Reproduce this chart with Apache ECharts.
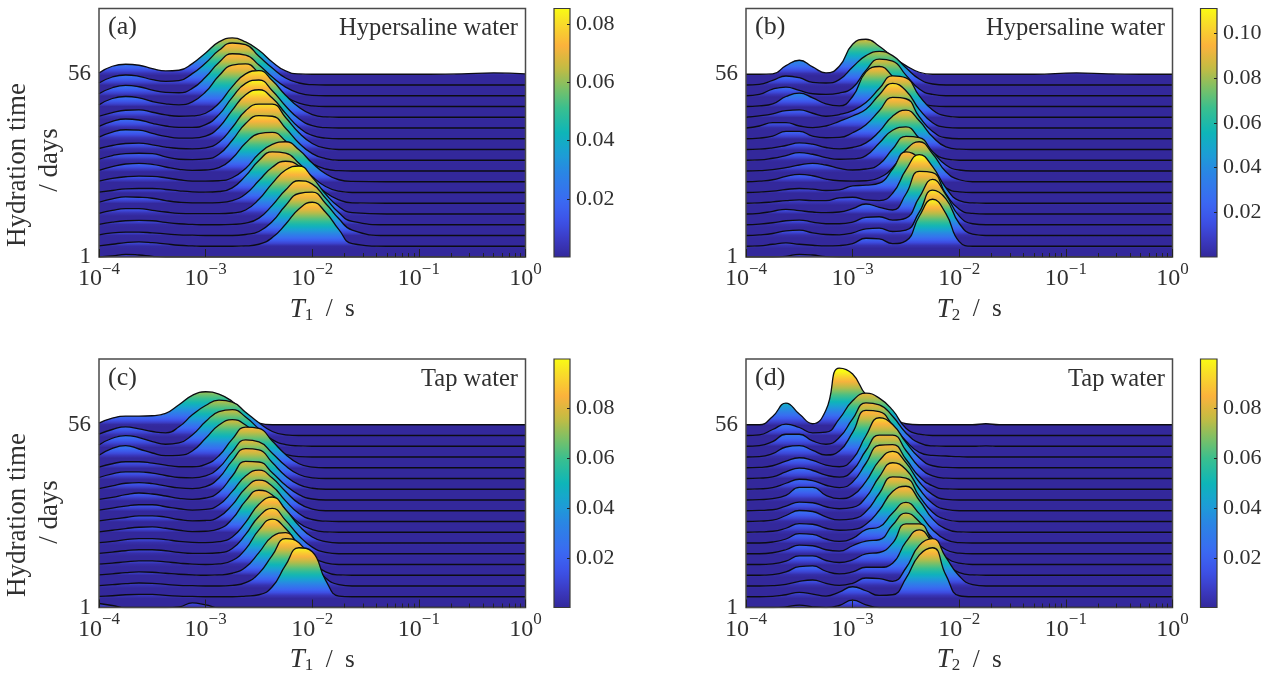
<!DOCTYPE html>
<html><head><meta charset="utf-8">
<style>html,body{margin:0;padding:0;background:#fff}#c{width:1273px;height:674px}</style>
<script src="https://cdn.jsdelivr.net/npm/echarts@6/dist/echarts.min.js"></script>
</head><body><div id="c"></div>
<script>
// log10(T / s) sampling positions shared by every ridge
const logT = [-4,-3.875,-3.75,-3.625,-3.5,-3.375,-3.25,-3.125,-3,-2.875,-2.75,-2.625,-2.5,-2.375,-2.25,-2.125,-2,-1.875,-1.75,-1.625,-1.3,-0.9,-0.6,-0.3,0];
const dayLabels = [1, 56];
const xTickLabels = [-4,-3,-2,-1,0];
// ridge heights, oldest day (top ridge) first; unit: 1/3 px of ridge height
const ridgesA = [
[4,24,30,27,17,10,12,32,64,97,109,97,72,37,10,1,0,0,0,0,0,0,1,4,1],
[6,24,30,26,16,11,13,34,66,104,126,121,86,51,21,6,1,0,0,0],
[6,24,31,27,17,10,9,22,56,100,126,122,92,56,26,8,1,0,0,0],
[5,24,30,26,15,8,5,14,44,92,124,128,100,62,30,10,2,0,0,0],
[3,14,21,22,15,7,3,4,12,42,92,130,140,110,66,30,8,1,0,0],
[5,20,27,24,14,6,2,2,10,40,92,134,144,112,66,28,7,1,0,0],
[5,20,27,26,16,7,2,2,8,34,86,132,147,122,76,34,10,2,0,0],
[3,12,18,19,14,7,3,2,5,22,66,116,136,136,96,50,18,4,0,0],
[3,14,20,21,20,10,3,2,4,18,60,110,134,132,96,52,20,5,0,0],
[2,13,21,23,20,12,5,2,3,10,38,84,112,116,90,52,22,6,1,0],
[2,10,15,17,16,12,6,2,2,3,12,40,84,112,120,96,56,24,6,1],
[1,6,11,12,12,9,5,2,1,3,14,50,96,122,118,88,48,18,4,0],
[3,13,19,18,15,8,3,1,1,2,8,28,68,108,126,112,70,32,10,1],
[2,11,16,16,11,6,2,1,1,1,3,12,44,92,132,144,110,60,22,4],
[1,8,12,13,12,7,3,1,0,0,1,5,20,58,104,132,122,80,36,10],
[2,8,10,10,8,5,2,1,0,0,0,3,12,42,90,126,130,96,50,16],
[1,6,11,13,11,7,3,1,0,0,0,1,6,26,66,112,132,102,50,8],
[0,3,8,6,2,0,0,0,0,0,0,0,0,0,0,0,0,0,0,0]
];
const ridgesB = [
[0,0,1,26,42,22,4,24,90,105,84,52,26,6,0,0,0,0,0,0,0,4,1,0,0],
[0,2,14,27,22,8,6,16,54,88,101,88,52,18,3,0,0,0,0,0],
[0,4,20,26,16,6,4,8,24,76,110,104,62,20,4,0,0,0,0,0],
[0,2,8,30,40,26,8,2,30,104,120,90,40,12,2,0,0,0,0,0],
[0,4,10,20,22,12,3,8,20,44,86,124,118,64,22,4,0,0,0,0],
[0,6,16,16,6,1,6,20,36,56,100,134,112,56,16,2,0,0,0,0],
[0,2,8,22,22,8,3,4,18,42,84,124,120,66,22,3,0,0,0,0],
[0,1,5,12,20,16,6,2,6,20,54,100,118,86,38,8,1,0,0,0],
[0,1,6,14,23,18,8,3,4,14,52,90,100,66,24,4,0,0,0,0],
[0,1,4,10,18,23,18,8,3,6,20,66,104,100,58,18,3,0,0,0],
[0,2,6,16,22,18,8,3,2,3,12,42,96,120,84,30,6,0,0,0],
[0,1,4,9,12,10,6,8,20,22,28,70,122,102,50,14,2,0,0,0],
[0,1,4,8,10,8,8,16,18,10,8,30,100,146,110,46,8,1,0,0],
[0,2,8,14,10,6,4,6,16,30,20,12,60,128,124,60,14,2,0,0],
[0,2,6,12,14,8,3,3,8,22,24,14,20,82,136,90,26,3,0,0],
[0,2,6,14,16,8,3,2,8,20,22,12,16,70,136,110,36,4,0,0],
[0,1,6,10,6,3,1,2,8,24,22,8,16,90,141,98,14,0,0,0],
[0,0,0,2,8,6,1,0,0,0,0,0,0,0,0,0,0,0,0,0]
];
const ridgesC = [
[5,20,26,26,27,34,60,88,99,92,70,35,5,0,0,0,0,0,0,0],
[4,18,26,20,12,8,26,62,90,106,100,70,38,12,2,0,0,0,0,0],
[4,24,32,26,14,6,10,34,74,104,110,88,52,20,5,1,0,0,0,0],
[5,26,34,24,12,4,5,18,56,96,112,96,60,26,8,1,0,0,0,0],
[2,12,18,18,14,8,3,3,10,36,86,122,118,80,40,12,2,0,0,0],
[3,14,20,20,16,9,3,2,8,32,80,116,110,76,38,12,2,0,0,0],
[2,10,18,20,17,10,4,2,8,34,86,122,118,80,40,14,3,0,0,0],
[2,8,16,21,18,12,5,2,6,24,72,116,114,82,44,16,3,0,0,0],
[2,8,14,18,18,12,6,2,4,18,58,104,122,98,58,22,5,0,0,0],
[2,7,12,17,17,13,6,2,3,14,50,100,124,106,62,24,6,1,0,0],
[1,6,11,15,16,12,6,2,3,10,40,94,126,112,68,28,8,1,0,0],
[1,5,10,13,13,10,5,2,1,4,18,62,116,138,100,52,18,4,0,0],
[1,5,9,12,12,9,4,1,1,3,16,58,112,136,100,54,20,4,0,0],
[1,4,8,11,11,8,4,1,0,2,12,46,104,136,108,58,22,5,0,0],
[1,4,8,10,9,6,3,1,0,1,6,24,68,116,128,86,40,10,1,0],
[1,4,7,9,8,5,2,1,0,0,2,10,38,92,142,130,70,24,4,0],
[1,3,6,7,7,4,2,1,0,0,0,2,6,30,95,147,135,50,2,0],
[12,6,0,0,0,0,2,14,8,0,0,0,0,0,0,0,0,0,0,0]
];
const ridgesD = [
[0,0,25,65,32,3,44,170,152,90,62,25,3,0,0,0,0,0,3,0],
[0,2,18,34,24,8,10,50,104,127,112,76,22,4,0,0,0,0,0,0],
[0,2,14,36,36,16,6,26,82,130,124,90,40,10,1,0,0,0,1,0],
[0,1,10,30,34,20,6,18,74,140,136,96,48,14,5,3,1,0,0,0],
[0,1,6,20,30,22,8,3,26,96,150,130,76,30,6,1,0,0,0,0],
[0,1,5,20,31,24,10,4,24,84,130,130,84,34,8,1,0,0,0,0],
[0,1,5,18,30,26,12,5,22,78,132,134,90,38,10,1,0,0,0,0],
[0,1,4,14,38,38,14,4,14,56,118,146,112,54,16,2,0,0,0,0],
[0,1,3,14,26,24,12,6,10,40,102,144,124,66,22,4,0,0,0,0],
[0,1,4,18,33,30,14,5,8,30,84,134,130,76,28,6,0,0,0,0],
[0,1,3,12,26,24,12,6,8,24,66,122,138,96,40,10,1,0,0,0],
[0,0,3,12,28,26,12,5,14,40,48,90,122,88,40,10,1,0,0,0],
[0,0,3,12,26,24,12,8,24,38,42,86,122,96,46,12,2,0,0,0],
[0,0,2,10,26,26,12,6,14,32,36,64,122,122,68,22,4,0,0,0],
[0,0,2,10,26,28,12,4,10,24,24,36,100,136,96,40,8,1,0,0],
[0,0,1,5,14,18,8,2,8,24,22,14,54,122,142,86,30,4,0,0],
[0,0,1,6,13,8,2,14,30,18,4,6,55,125,147,65,3,0,0,0],
[0,0,0,2,7,2,0,6,22,8,0,0,0,0,0,0,0,0,0,0]
];
const colorbarMaxA = 0.0854, colorbarMaxB = 0.1112, colorbarMaxC = 0.1, colorbarMaxD = 0.1;
const colorbarTicksA = [0.02,0.04,0.06,0.08];
const colorbarTicksB = [0.02,0.04,0.06,0.08,0.10];
const colorbarTicksC = [0.02,0.04,0.06,0.08];
const colorbarTicksD = [0.02,0.04,0.06,0.08];

const FONT = '"Liberation Serif", serif', INK = '#303030';
const parula = [[0,'#33289b'],[0.06,'#3a38bd'],[0.14,'#3d50e6'],[0.22,'#3b68f3'],[0.34,'#2a86e4'],[0.42,'#1ba0d4'],[0.5,'#0eb5b8'],[0.6,'#3abf8e'],[0.68,'#7cc066'],[0.76,'#c4bb42'],[0.85,'#fbb23c'],[0.94,'#f8dc2a'],[1,'#f9fb14']];
function hex(c){return [1,3,5].map(i=>parseInt(c.substr(i,2),16));}
function cmap(t){
  t=Math.max(0,Math.min(1,t));
  for(let i=1;i<parula.length;i++){
    if(t<=parula[i][0]){
      const a=parula[i-1],b=parula[i],f=(t-a[0])/(b[0]-a[0]),A=hex(a[1]),B=hex(b[1]);
      return 'rgb('+A.map((v,k)=>Math.round(v+(B[k]-v)*f)).join(',')+')';
    }
  }
  return parula[parula.length-1][1];
}
const STEP = 32.25, YMAX = 745.5;
const panels = [
 {tag:'(a)',label:'Hypersaline water',sym:'1',rows:ridgesA,left:99,top:8.5,w:426.5,cbLeft:554,cbW:16,cbMax:colorbarMaxA,cbTicks:colorbarTicksA,full:143},
 {tag:'(b)',label:'Hypersaline water',sym:'2',rows:ridgesB,left:746,top:8.5,w:426.5,cbLeft:1200.5,cbW:16.5,cbMax:colorbarMaxB,cbTicks:colorbarTicksB,full:140},
 {tag:'(c)',label:'Tap water',sym:'1',rows:ridgesC,left:99,top:359,w:426.5,cbLeft:554,cbW:16,cbMax:colorbarMaxC,cbTicks:colorbarTicksC,full:148},
 {tag:'(d)',label:'Tap water',sym:'2',rows:ridgesD,left:746,top:359,w:426.5,cbLeft:1200.5,cbW:16.5,cbMax:colorbarMaxD,cbTicks:colorbarTicksD,full:160}
];
const H = 248.5;
const minorLog = [];
for(let d=-2;d<0;d++) for(let k=2;k<10;k++) minorLog.push(d+Math.log10(k));
const grid=[],xAxis=[],yAxis=[],series=[],graphic=[];
function tick10(v){const e=Math.round(Math.log10(v));return '{b|10}{s|'+(e<0?'\u2212'+(-e):e)+'}';}
panels.forEach((p,pi)=>{
  const g=grid.length;
  grid.push({show:true,z:60,outerBoundsMode:'none',left:p.left,top:p.top,width:p.w,height:H,backgroundColor:'transparent',borderColor:'#4a4a4a',borderWidth:1.5});
  grid.push({show:true,z:60,outerBoundsMode:'none',left:p.cbLeft,top:p.top,width:p.cbW,height:H,backgroundColor:'transparent',borderColor:'#3a3a3a',borderWidth:1.2});
  const xMain=xAxis.length;
  xAxis.push({type:'log',logBase:10,gridIndex:g,min:1e-4,max:1,z:70,
    name:'{i|T}{u|'+p.sym+'}{n|  /  s}',nameLocation:'middle',nameGap:38,
    nameTextStyle:{padding:[0,0,0,20],rich:{i:{fontFamily:FONT,fontStyle:'italic',fontSize:27,color:INK},u:{fontFamily:FONT,fontSize:17,color:INK,padding:[12,0,0,0]},n:{fontFamily:FONT,fontSize:25,color:INK}}},
    axisLine:{show:false},splitLine:{show:false},minorTick:{show:false},
    axisTick:{show:true,inside:true,length:8,lineStyle:{color:'#222',width:1}},
    axisLabel:{margin:4,formatter:tick10,hideOverlap:false,showMinLabel:true,showMaxLabel:true,rich:{b:{fontFamily:FONT,fontSize:24,color:INK,padding:[6,0,0,0]},s:{fontFamily:FONT,fontSize:17,color:INK,verticalAlign:'top'}}}});
  // second bottom axis: the minor decade ticks
  xAxis.push({type:'value',gridIndex:g,min:-4,max:0,z:70,position:'bottom',axisLine:{show:false},splitLine:{show:false},axisLabel:{show:false},
    axisTick:{show:true,inside:true,length:4,customValues:minorLog,lineStyle:{color:'#222',width:1}}});
  const yMain=yAxis.length;
  yAxis.push({type:'value',gridIndex:g,min:0,max:YMAX,z:70,axisLine:{show:false},axisTick:{show:false},splitLine:{show:false},
    axisLabel:{margin:8,padding:[3,0,0,0],customValues:dayLabels.map(d=>(d-1)/55*17*STEP),formatter:v=>v===0?'1':'56',fontFamily:FONT,fontSize:23,color:INK}});
  p.rows.forEach((row,i)=>{
    const level=p.rows.length-1-i, base=level*STEP, origin=Math.max(0,base-STEP);
    const peak=Math.max.apply(null,row), span=peak+(base-origin);
    const stops=[];
    for(let k=0;k<=20;k++){const t=k/20,h=Math.max(0,peak-t*span);stops.push({offset:t,color:cmap(Math.pow(h/p.full,0.82))});}
    series.push({type:'line',name:p.tag+' ridge '+(level+1),xAxisIndex:xMain,yAxisIndex:yMain,z:2+i,
      data:logT.map((e,j)=>[Math.pow(10,e),base+(row[j]||0)]),
      showSymbol:false,symbol:'none',smooth:0.5,silent:true,animation:false,clip:true,
      lineStyle:{color:'#0c0c12',width:1.3},
      areaStyle:{origin:origin,opacity:1,color:new echarts.graphic.LinearGradient(0,0,0,1,stops)}});
  });
  // colour bar
  xAxis.push({type:'category',gridIndex:g+1,data:['c'],show:false,boundaryGap:true});
  yAxis.push({type:'value',gridIndex:g+1,min:0,max:p.cbMax,position:'right',z:70,splitLine:{show:false},axisLine:{show:false},
    axisTick:{show:true,inside:true,length:3,customValues:p.cbTicks,lineStyle:{color:'#222',width:1}},
    axisLabel:{margin:6,padding:[3,0,0,0],customValues:p.cbTicks,formatter:v=>v.toFixed(2),fontFamily:FONT,fontSize:22,color:INK}});
  const cbStops=[];for(let k=0;k<=40;k++)cbStops.push({offset:k/40,color:cmap(1-k/40)});
  series.push({type:'bar',name:p.tag+' colour bar',xAxisIndex:xAxis.length-1,yAxisIndex:yAxis.length-1,data:[p.cbMax],barWidth:'100%',silent:true,animation:false,
    itemStyle:{color:new echarts.graphic.LinearGradient(0,0,0,1,cbStops)}});
  graphic.push({type:'text',left:p.left+9,top:p.top+6,z:80,style:{text:p.tag,fontFamily:FONT,fontSize:26,fill:INK}});
  graphic.push({type:'text',right:1273-(p.left+p.w-7.5),top:p.top+8,z:80,style:{text:p.label,fontFamily:FONT,fontSize:24.5,fill:INK}});
});
[[165,160],[515,512]].forEach(c=>{
  graphic.push({type:'text',x:18,y:c[0],rotation:Math.PI/2,z:80,style:{text:'Hydration time',fontFamily:FONT,fontSize:27,fill:INK,align:'center',verticalAlign:'middle'}});
  graphic.push({type:'text',x:50,y:c[1],rotation:Math.PI/2,z:80,style:{text:'/ days',fontFamily:FONT,fontSize:27,fill:INK,align:'center',verticalAlign:'middle'}});
});
const chart=echarts.init(document.getElementById('c'),null,{renderer:'canvas'});
chart.setOption({animation:false,backgroundColor:'#fff',grid,xAxis,yAxis,series,graphic});
</script></body></html>
